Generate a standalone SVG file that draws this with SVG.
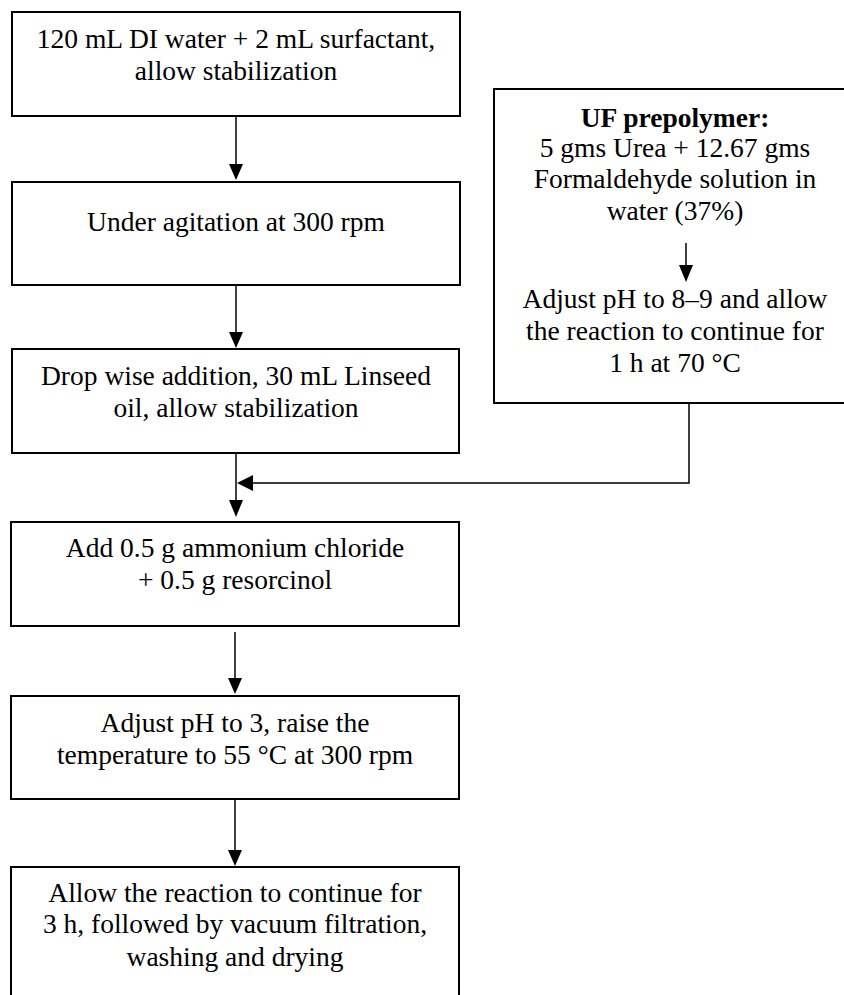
<svg xmlns="http://www.w3.org/2000/svg" width="844" height="995" viewBox="0 0 844 995">
<style>
.box{fill:#fff;stroke:#000;stroke-width:2}
.t{font-size:27.5px;fill:#000;text-anchor:middle}
.b{font-weight:bold}
.c{fill:none;stroke:#000;stroke-width:1.5}
.ah{fill:#000;stroke:none}
</style>
<rect width="844" height="995" fill="#fff"/>
<g font-family="'Liberation Serif', 'Times New Roman', 'DejaVu Serif', serif">
<g id="n1"><rect class="box" x="12" y="12" width="448" height="104"/>
<text class="t" x="236" y="48">120 mL DI water + 2 mL surfactant,</text>
<text class="t" x="236" y="80">allow stabilization</text></g>
<g id="n2"><rect class="box" x="12" y="182" width="448" height="103"/>
<text class="t" x="236" y="231">Under agitation at 300 rpm</text></g>
<g id="n3"><rect class="box" x="12" y="349" width="447" height="104"/>
<text class="t" x="236" y="385">Drop wise addition, 30 mL Linseed</text>
<text class="t" x="236" y="417">oil, allow stabilization</text></g>
<g id="n4"><rect class="box" x="11" y="522" width="448" height="104"/>
<text class="t" x="235" y="557">Add 0.5 g ammonium chloride</text>
<text class="t" x="235" y="589">+ 0.5 g resorcinol</text></g>
<g id="n5"><rect class="box" x="11" y="696" width="448" height="103"/>
<text class="t" x="235" y="732">Adjust pH to 3, raise the</text>
<text class="t" x="235" y="764">temperature to 55 °C at 300 rpm</text></g>
<g id="n6"><rect class="box" x="11" y="867" width="448" height="140"/>
<text class="t" x="235" y="902">Allow the reaction to continue for</text>
<text class="t" x="235" y="933">3 h, followed by vacuum filtration,</text>
<text class="t" x="235" y="966">washing and drying</text></g>
<g id="n7"><rect class="box" x="494" y="89" width="360" height="314"/>
<text class="t b" x="675" y="127">UF prepolymer:</text>
<text class="t" x="675" y="157">5 gms Urea + 12.67 gms</text>
<text class="t" x="675" y="188">Formaldehyde solution in</text>
<text class="t" x="675" y="220">water (37%)</text>
<line class="c" x1="686" y1="243" x2="686" y2="267"/>
<polygon class="ah" points="679,265 693,265 686,282"/>
<text class="t" x="675" y="308">Adjust pH to 8–9 and allow</text>
<text class="t" x="675" y="340">the reaction to continue for</text>
<text class="t" x="675" y="372">1 h at 70 °C</text></g>
</g>
<g id="connectors">
<line class="c" x1="236" y1="116" x2="236" y2="165"/>
<polygon class="ah" points="229,164 243,164 236,180"/>
<line class="c" x1="236" y1="285" x2="236" y2="333"/>
<polygon class="ah" points="229,332 243,332 236,348"/>
<line class="c" x1="236" y1="453" x2="236" y2="502"/>
<polygon class="ah" points="229,500 243,500 236,517"/>
<polyline class="c" points="689,403 689,483 252,483"/>
<polygon class="ah" points="253,475 253,491 237,483"/>
<line class="c" x1="235" y1="632" x2="235" y2="680"/>
<polygon class="ah" points="228,678 242,678 235,694"/>
<line class="c" x1="235" y1="799" x2="235" y2="851"/>
<polygon class="ah" points="228,850 242,850 235,866"/>
</g>
</svg>
